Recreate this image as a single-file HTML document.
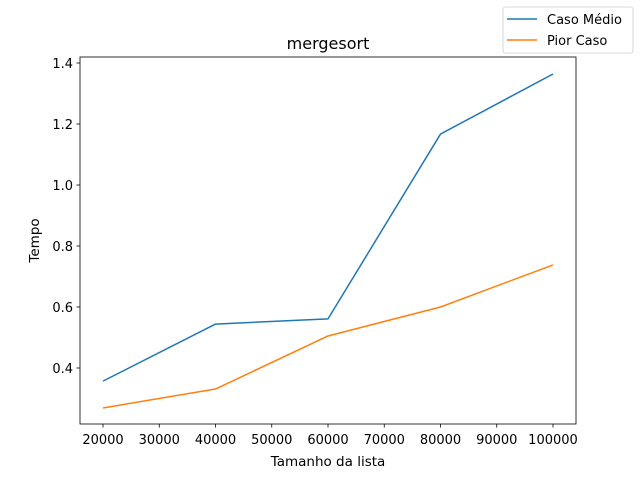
<!DOCTYPE html>
<html><head><meta charset="utf-8"><style>
html,body{margin:0;padding:0;background:#fff;}
svg{display:block;font-family:"DejaVu Sans","Liberation Sans",sans-serif;}
</style></head><body>
<svg id="chart" width="640" height="478" viewBox="0 0 640 478"></svg>
<script>
const sizes = [20000, 40000, 60000, 80000, 100000];
const casoMedio = [0.357, 0.544, 0.561, 1.167, 1.364];
const piorCaso = [0.269, 0.331, 0.505, 0.600, 0.738];
const xTicks = [20000, 30000, 40000, 50000, 60000, 70000, 80000, 90000, 100000];
const yTicks = [0.4, 0.6, 0.8, 1.0, 1.2, 1.4];

const L=80,R=576,T=57,B=424;
const xs=v=>103+(v-20000)/80000*450;
const ys=v=>368-(v-0.4)/1.0*305;
const NS="http://www.w3.org/2000/svg";
const svg=document.getElementById('chart');
function mk(tag,attrs,parent){const e=document.createElementNS(NS,tag);for(const k in attrs)e.setAttribute(k,attrs[k]);(parent||svg).appendChild(e);return e;}

function line(data,color,name){
  const p=mk('polyline',{points:data.map((v,i)=>xs(sizes[i])+','+ys(v)).join(' '),fill:'none',stroke:color,'stroke-width':1.5,'stroke-linejoin':'round'});
  
  
}
line(casoMedio,'#1f77b4','caso-medio-line');
line(piorCaso,'#ff7f0e','pior-caso-line');

const fr=mk('rect',{x:L,y:T,width:R-L,height:B-T,fill:'none',stroke:'#000','stroke-width':0.8});



xTicks.forEach(v=>{
  const x=xs(v);
  mk('line',{x1:x,x2:x,y1:B,y2:B+3.5,stroke:'#000','stroke-width':0.8});
  const t=mk('text',{x:x,y:B+20,'font-size':13,'text-anchor':'middle'});t.textContent=v;
  
  
});
yTicks.forEach(v=>{
  const y=ys(v);
  mk('line',{x1:L,x2:L-3.5,y1:y,y2:y,stroke:'#000','stroke-width':0.8});
  const t=mk('text',{x:L-7,y:y+5,'font-size':13,'text-anchor':'end'});t.textContent=v.toFixed(1);
  
  
});

const title=mk('text',{x:(L+R)/2,y:T-8,'font-size':16,'text-anchor':'middle'});title.textContent='mergesort';


const xl=mk('text',{x:(L+R)/2,y:466,'font-size':13.5,'text-anchor':'middle'});xl.textContent='Tamanho da lista';


const yl=mk('text',{x:0,y:0,'font-size':13.5,'text-anchor':'middle',transform:'translate(39,'+((T+B)/2)+') rotate(-90)'});yl.textContent='Tempo';



const lg=mk('g',{});


mk('rect',{x:503,y:7,width:130,height:46,rx:2,fill:'#fff',stroke:'#ccc','stroke-width':0.8},lg);
[['Caso Médio','#1f77b4',19],['Pior Caso','#ff7f0e',40]].forEach(([n,c,y])=>{
  mk('line',{x1:507,x2:537,y1:y,y2:y,stroke:c,'stroke-width':1.5},lg);
  const t=mk('text',{x:547,y:y+5,'font-size':13},lg);t.textContent=n;
  
  
});
</script>
</body></html>
